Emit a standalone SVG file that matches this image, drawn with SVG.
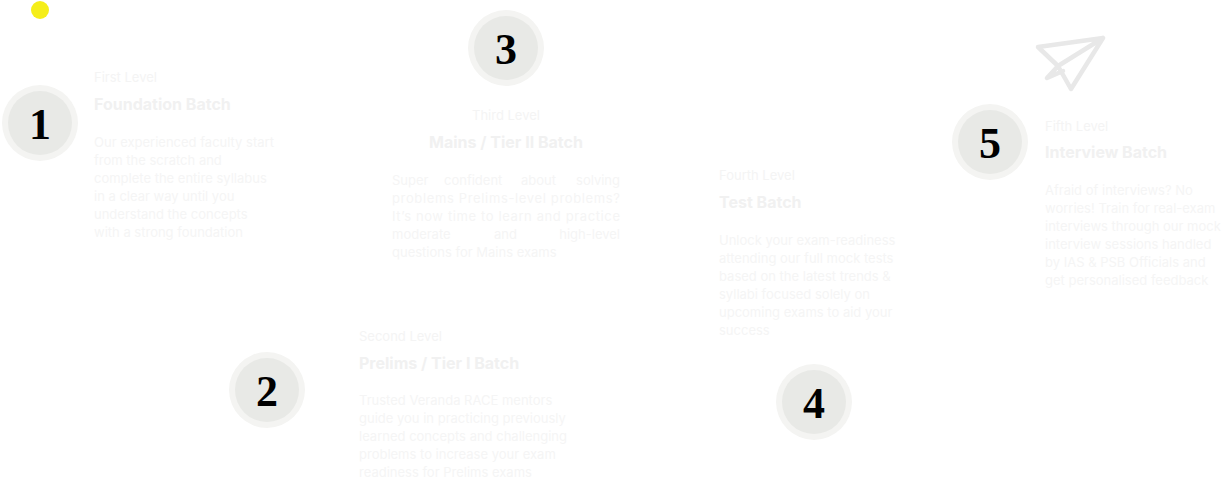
<svg xmlns="http://www.w3.org/2000/svg" width="1232" height="481" viewBox="0 0 1232 481">
<style>
.ring{fill:#f4f4f2}.disc{fill:#e8e9e6}
.num{font-family:"Liberation Serif",serif;font-weight:bold;font-size:44px;fill:#000;text-anchor:middle}
.lvl{font-family:Inter,"Liberation Sans",sans-serif;font-size:13px;fill:#f4f4f4}
.ttl{font-family:Inter,"Liberation Sans",sans-serif;font-size:16px;font-weight:bold;fill:#f1f1f1}
.body{font-family:Inter,"Liberation Sans",sans-serif;font-size:13px;fill:#f5f5f5}
</style>
<rect width="1232" height="481" fill="#fff"/>
<circle cx="40" cy="10" r="9" fill="#f5ee1a"/>
<g id="connectors"/>
<g id="node1">
<circle class="ring" cx="40" cy="123" r="38"/><circle class="disc" cx="40" cy="123" r="32"/>
<text class="num" x="40" y="139">1</text>
<text class="lvl" x="94" y="82">First Level</text>
<text class="ttl" x="94" y="110">Foundation Batch</text>
<text class="body" x="94" y="147">Our experienced faculty start</text>
<text class="body" x="94" y="165">from the scratch and</text>
<text class="body" x="94" y="183">complete the entire syllabus</text>
<text class="body" x="94" y="201">in a clear way until you</text>
<text class="body" x="94" y="219">understand the concepts</text>
<text class="body" x="94" y="237">with a strong foundation</text>
</g>
<g id="node2">
<circle class="ring" cx="267" cy="390" r="38"/><circle class="disc" cx="267" cy="390" r="32"/>
<text class="num" x="267" y="406">2</text>
<text class="lvl" x="359" y="341">Second Level</text>
<text class="ttl" x="359" y="369">Prelims / Tier I Batch</text>
<text class="body" x="359" y="405">Trusted Veranda RACE mentors</text>
<text class="body" x="359" y="423">guide you in practicing previously</text>
<text class="body" x="359" y="441">learned concepts and challenging</text>
<text class="body" x="359" y="459">problems to increase your exam</text>
<text class="body" x="359" y="477">readiness for Prelims exams</text>
</g>
<g id="node3">
<circle class="ring" cx="506" cy="48" r="38"/><circle class="disc" cx="506" cy="48" r="32"/>
<text class="num" x="506" y="64">3</text>
<text class="lvl" x="506" y="120" text-anchor="middle">Third Level</text>
<text class="ttl" x="506" y="148" text-anchor="middle">Mains / Tier II Batch</text>
<text class="body" y="185"><tspan x="392">Super</tspan><tspan x="444">confident</tspan><tspan x="521">about</tspan><tspan x="620" text-anchor="end">solving</tspan></text>
<text class="body" x="392" y="203" textLength="228" lengthAdjust="spacing">problems Prelims-level problems?</text>
<text class="body" x="392" y="221" textLength="228" lengthAdjust="spacing">It’s now time to learn and practice</text>
<text class="body" y="239"><tspan x="392">moderate</tspan><tspan x="494">and</tspan><tspan x="620" text-anchor="end">high-level</tspan></text>
<text class="body" x="392" y="257">questions for Mains exams</text>
</g>
<g id="node4">
<circle class="ring" cx="814" cy="402" r="38"/><circle class="disc" cx="814" cy="402" r="32"/>
<text class="num" x="814" y="418">4</text>
<text class="lvl" x="719" y="180">Fourth Level</text>
<text class="ttl" x="719" y="208">Test Batch</text>
<text class="body" x="719" y="245">Unlock your exam-readiness</text>
<text class="body" x="719" y="263">attending our full mock tests</text>
<text class="body" x="719" y="281">based on the latest trends &amp;</text>
<text class="body" x="719" y="299">syllabi focused solely on</text>
<text class="body" x="719" y="317">upcoming exams to aid your</text>
<text class="body" x="719" y="335">success</text>
</g>
<g id="node5">
<path d="M1103,38 L1038,47 L1058,66 L1071,89 Z M1103,38 L1058,66 M1058,66 L1047,78 L1063,71" fill="none" stroke="#e8e8e8" stroke-width="4.5" stroke-linejoin="round" stroke-linecap="round"/>
<circle class="ring" cx="990" cy="142" r="38"/><circle class="disc" cx="990" cy="142" r="32"/>
<text class="num" x="990" y="158">5</text>
<text class="lvl" x="1045" y="131">Fifth Level</text>
<text class="ttl" x="1045" y="158">Interview Batch</text>
<text class="body" x="1045" y="195">Afraid of interviews? No</text>
<text class="body" x="1045" y="213">worries! Train for real-exam</text>
<text class="body" x="1045" y="231">interviews through our mock</text>
<text class="body" x="1045" y="249">interview sessions handled</text>
<text class="body" x="1045" y="267">by IAS &amp; PSB Officials and</text>
<text class="body" x="1045" y="285">get personalised feedback</text>
</g>
</svg>
